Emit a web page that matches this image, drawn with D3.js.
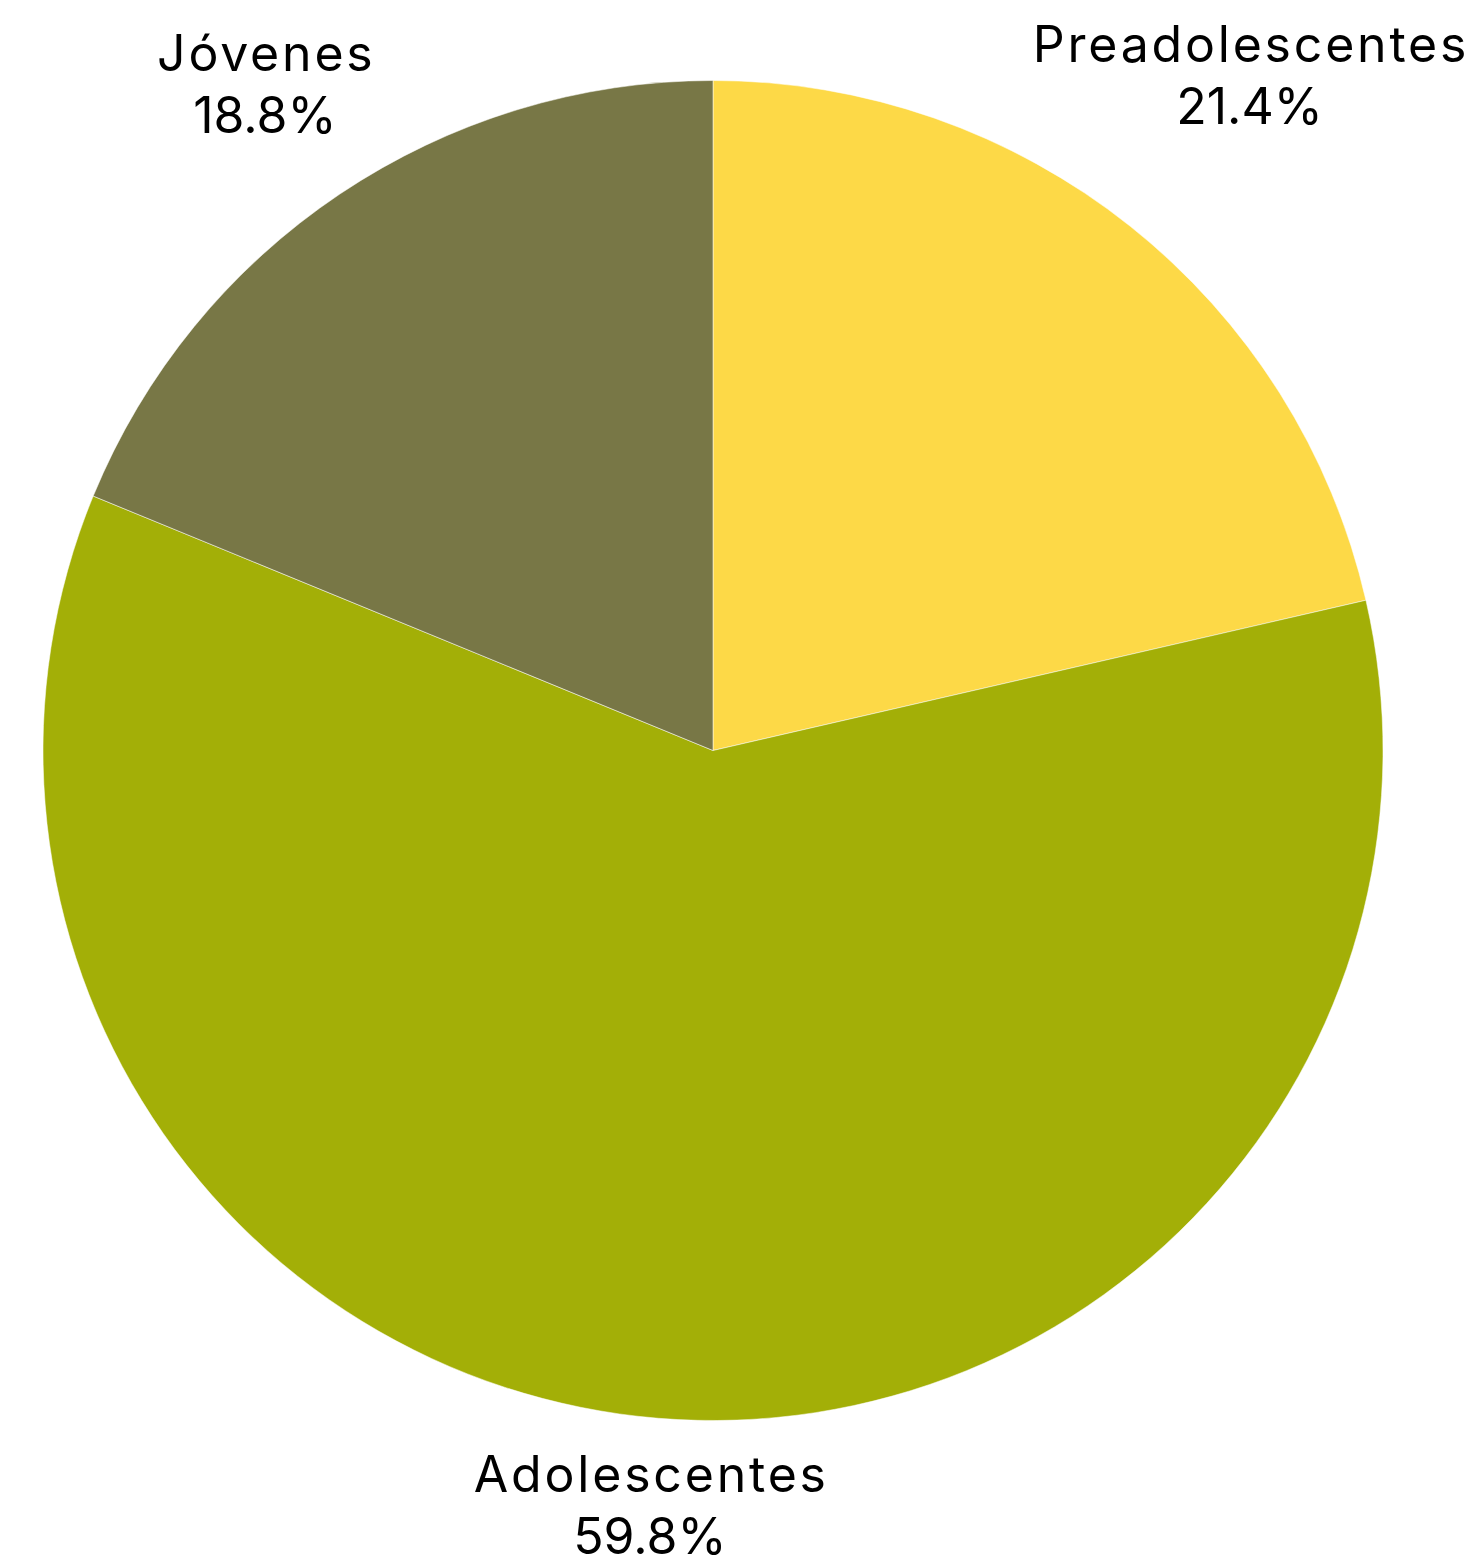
<!DOCTYPE html>
<html>
<head>
<meta charset="utf-8">
<script src="https://cdn.jsdelivr.net/npm/d3@7"></script>
<style>
  html, body { margin: 0; padding: 0; background: #ffffff; }
  svg { display: block; }
  .lbl { font-family: Inter, "Open Sans", sans-serif; font-size: 50px; fill: #000; }
  .lbl .name { letter-spacing: 2.8px; }
</style>
</head>
<body>
<svg id="chart" width="1481" height="1563"></svg>
<script>
// Age groups and their share of the total (percent)
const categories = ["Preadolescentes", "Adolescentes", "Jóvenes"];
const shares = [21.4, 59.8, 18.8];
const colors = ["#FDD947", "#A3AF07", "#787746"];

const width = 1481, height = 1563;
const cx = 713, cy = 750.5, radius = 670;
const labelGap = 23;

const svg = d3.select("#chart");
const g = svg.append("g").attr("transform", `translate(${cx},${cy})`);

const data = categories.map((c, i) => ({ name: c, value: shares[i], color: colors[i] }));

const pie = d3.pie().value(d => d.value).sort(null);
const arc = d3.arc().innerRadius(0).outerRadius(radius);
const arcs = pie(data);

g.selectAll("path.slice")
  .data(arcs)
  .join("path")
  .attr("class", "slice")
  .attr("d", arc)
  .attr("fill", d => d.data.color)
  .attr("stroke", "#ffffff")
  .attr("stroke-width", 1)
  .attr("stroke-opacity", 0.5);

// Two-line labels (name + percent), pushed outward along the slice's
// mid-angle until the closest edge of the text block clears the rim.
const fmt = v => v.toFixed(1) + "%";
const lineH = 62;

const labels = g.selectAll("g.label")
  .data(arcs)
  .join("g")
  .attr("class", "label");

labels.each(function (d) {
  const grp = d3.select(this);
  const t = grp.append("text").attr("class", "lbl").attr("text-anchor", "middle");
  t.append("tspan").attr("class", "name").attr("x", 1.4).attr("y", -lineH / 2 + 17).text(d.data.name);
  t.append("tspan").attr("class", "pct").attr("x", 0).attr("y", lineH / 2 + 17).text(fmt(d.data.value));

  const bb = t.node().getBBox();
  const mid = (d.startAngle + d.endAngle) / 2;
  const ux = Math.sin(mid), uy = -Math.cos(mid);
  const boxCx = bb.x + bb.width / 2, boxCy = bb.y + bb.height / 2;
  const nearest = dist => {
    const px = dist * ux, py = dist * uy;
    const dx = Math.max(0, Math.abs(px) - bb.width / 2);
    const dy = Math.max(0, Math.abs(py) - bb.height / 2);
    return Math.hypot(dx, dy);
  };
  let lo = 0, hi = radius * 3;
  for (let k = 0; k < 60; k++) {
    const m = (lo + hi) / 2;
    if (nearest(m) < radius + labelGap) lo = m; else hi = m;
  }
  const dist = (lo + hi) / 2;
  grp.attr("transform", `translate(${dist * ux - boxCx},${dist * uy - boxCy})`);
});
</script>
</body>
</html>
